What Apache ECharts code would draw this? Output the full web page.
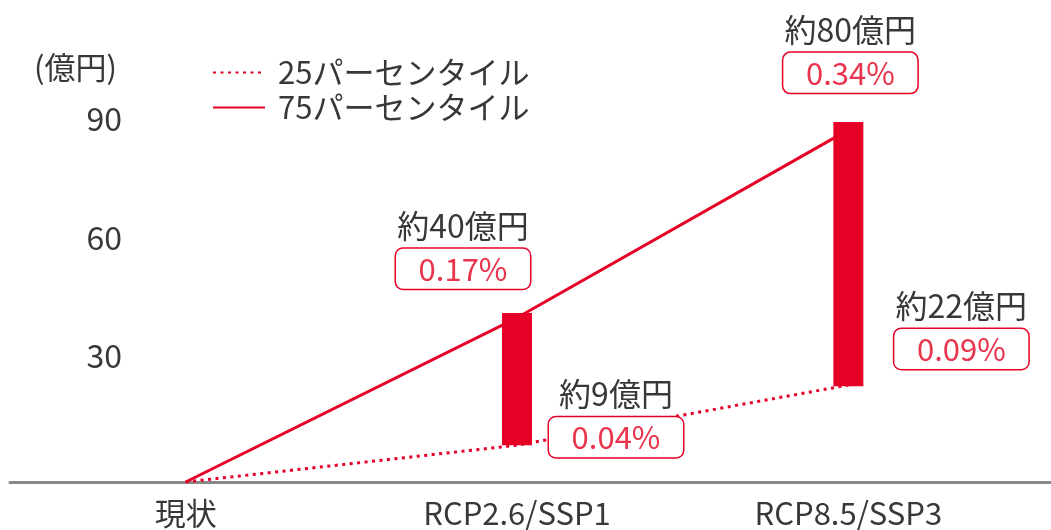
<!DOCTYPE html>
<html>
<head>
<meta charset="utf-8">
<script src="https://cdn.jsdelivr.net/npm/echarts@6/dist/echarts.min.js"></script>
<style>
  html, body { margin: 0; padding: 0; background: #fff; }
  #chart { width: 1051px; height: 530px; }
</style>
</head>
<body>
<div id="chart"></div>
<script>
// カテゴリ
var categories = ['現状', 'RCP2.6/SSP1', 'RCP8.5/SSP3'];
// 25/75パーセンタイル（億円）
var p25 = [0, 9.3, 24.5];
var p75 = [0, 41.5, 89];
// 棒（範囲）
var rangeLow = [null, 9.3, 24.2];
var rangeHigh = [null, 42.7, 91];
// ラベル
var amount25 = ['', '約9億円', '約22億円'];
var pct25 = ['', '0.04%', '0.09%'];
var amount75 = ['', '約40億円', '約80億円'];
var pct75 = ['', '0.17%', '0.34%'];
var yTicks = [30, 60, 90];

var RED = '#e60026';
var TXT = '#383838';
var FONT = '"Noto Sans CJK JP", "Noto Sans", sans-serif';

var myChart = echarts.init(document.getElementById('chart'));

var rich = {
	a: { fontSize: 32, color: TXT, fontFamily: FONT, lineHeight: 46, align: 'center' },
	b: {
		fontSize: 31, color: '#e8344c', fontFamily: FONT, align: 'center',
		width: 134, height: 40, lineHeight: 40,
		borderColor: RED, borderWidth: 1.5, borderRadius: 7,
		backgroundColor: '#fff'
	}
};

// ラベルのずらし量
var off75 = [null, [-54, -23], [2, -31]];
var off25 = [null, [99, 18], [113, -10]];

function makeData(vals, amt, pct, off) {
	return vals.map(function (v, i) {
		if (!off[i]) return { value: v };
		return {
			value: v,
			label: {
				show: true,
				position: 'top',
				distance: 5,
				offset: off[i],
				formatter: '{a|' + amt[i] + '}\n{b|' + pct[i] + '}',
				rich: rich
			}
		};
	});
}

myChart.setOption({
	animation: false,
	textStyle: { fontFamily: FONT },
	legend: {
		orient: 'vertical',
		left: 207,
		top: 52,
		itemWidth: 52,
		itemHeight: 20,
		itemGap: 4,
		data: ['25パーセンタイル', '75パーセンタイル'],
		textStyle: { fontSize: 31, color: TXT, padding: [0, 0, 0, 8] }
	},
	grid: [
		{ left: 20, right: 37, top: 118, bottom: 48 },
		{ left: 10, right: 0, top: 118, bottom: 48 }
	],
	xAxis: [
		{
			type: 'category',
			gridIndex: 0,
			data: categories,
			axisLine: { show: false },
			axisTick: { show: false },
			axisLabel: { fontSize: 31, color: TXT, margin: 16 }
		},
		{
			type: 'value',
			gridIndex: 1,
			min: 0, max: 1,
			axisLine: { show: true, onZero: false, lineStyle: { color: '#888888', width: 3 } },
			axisTick: { show: false },
			axisLabel: { show: false },
			splitLine: { show: false }
		}
	],
	yAxis: [
		{
			type: 'value',
			gridIndex: 0,
			min: 0,
			max: 92,
			interval: 30,
			offset: -110,
			name: '(億円)',
			nameLocation: 'end',
			nameGap: 35,
			nameTextStyle: { fontSize: 31, color: TXT, align: 'right', padding: [0, 13, 0, 0] },
			axisLine: { show: false },
			axisTick: { show: false },
			splitLine: { show: false },
			axisLabel: {
				fontSize: 32, color: TXT, verticalAlign: 'bottom', lineHeight: 14,
				formatter: function (v) { return yTicks.indexOf(v) >= 0 ? String(v) : ''; }
			}
		},
		{ type: 'value', gridIndex: 1, show: false, min: 0, max: 1 }
	],
	series: [
		{
			name: 'base',
			type: 'bar',
			stack: 'range',
			barWidth: 30,
			clip: false,
			silent: true,
			itemStyle: { color: 'rgba(0,0,0,0)' },
			data: rangeLow
		},
		{
			name: 'range',
			type: 'bar',
			stack: 'range',
			barWidth: 30,
			clip: false,
			itemStyle: { color: RED },
			data: rangeHigh.map(function (h, i) { return h == null ? null : h - rangeLow[i]; }),
			z: 3
		},
		{
			name: '25パーセンタイル',
			type: 'line',
			symbol: 'circle',
			symbolSize: 2,
			showSymbol: true,
			itemStyle: { color: 'rgba(0,0,0,0)' },
			lineStyle: { color: RED, width: 3, type: [3, 4.5] },
			data: makeData(p25, amount25, pct25, off25),
			z: 4
		},
		{
			name: '75パーセンタイル',
			type: 'line',
			symbol: 'circle',
			symbolSize: 2,
			showSymbol: true,
			itemStyle: { color: 'rgba(0,0,0,0)' },
			lineStyle: { color: RED, width: 3 },
			data: makeData(p75, amount75, pct75, off75),
			z: 4
		}
	]
});
window.onresize = function () {
	myChart.resize();
};
</script>
</body>
</html>
